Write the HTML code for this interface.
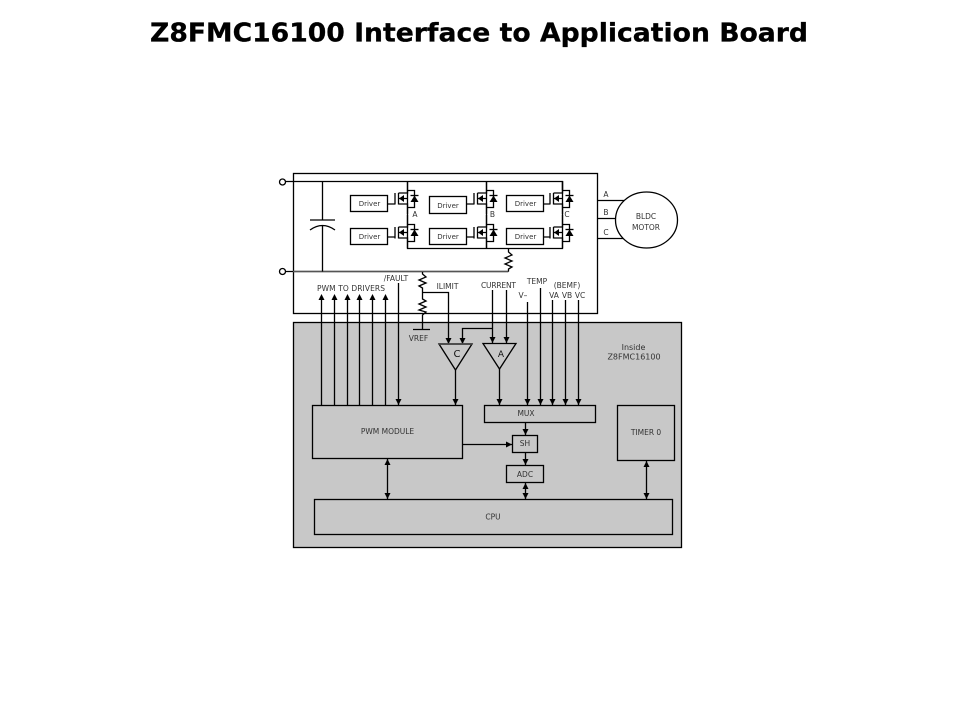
<!DOCTYPE html>
<html><head><meta charset="utf-8"><style>
html,body{margin:0;padding:0;background:#fff}
svg{display:block}
text{font-family:"DejaVu Sans","Liberation Sans",sans-serif;font-size:7.5px;fill:#333;text-anchor:middle}
.d{font-size:7px}
.l{stroke:#000;stroke-width:1.3;fill:none}
.b{stroke:#000;stroke-width:1.3;fill:#fff}
.g{stroke:#000;stroke-width:1.3;fill:#c8c8c8}
</style></head><body>
<svg width="960" height="720" viewBox="0 0 960 720" xmlns="http://www.w3.org/2000/svg">
<defs>
<g id="fet">
<path class="l" d="M-12.500,-5V6.500M-9,-5V6.500M-9,-5H0V-17M-9,6H0V16M0,-7.500H7V9.500H0M-9,0.500H0"/>
<path d="M-8.500,0.500L-3.500,-3V4Z" fill="#000"/>
<path d="M7,-2.500L3,4H11Z" fill="#000"/>
<path class="l" d="M3,-2.500H11"/>
</g>
<path id="up" d="M0,0L-3,6H3Z" fill="#000"/>
<path id="dn" d="M0,0L-3,-6H3Z" fill="#000"/>
</defs>
<text x="479" y="41.500" style="font-size:26px;font-weight:bold;fill:#000;stroke:#000;stroke-width:.3" textLength="658" lengthAdjust="spacingAndGlyphs">Z8FMC16100 Interface to Application Board</text>

<rect x="293.500" y="173.500" width="304" height="140" class="b"/>
<rect x="293.500" y="322.500" width="388" height="225" class="g"/>

<!-- rails -->
<path class="l" d="M285,181.500H562.500V190M285,271.500H508.500"/>
<path d="M293,271.500H508" stroke="#555" stroke-width="1.600" fill="none"/>
<circle cx="282.500" cy="182" r="3" class="b"/>
<circle cx="282.500" cy="271.500" r="3" class="b"/>
<path class="l" d="M407.500,181.500V248.500H562.500V181.500M486.500,181.500V248.500"/>
<!-- capacitor -->
<path class="l" d="M322.500,181.500V220M310,220H335M322.500,226V271.500M310,230Q322.500,221 335,230"/>
<!-- fets -->
<use href="#fet" x="407.500" y="198"/><use href="#fet" x="407.500" y="232"/>
<use href="#fet" x="486.500" y="198"/><use href="#fet" x="486.500" y="232"/>
<use href="#fet" x="562.500" y="198"/><use href="#fet" x="562.500" y="232"/>
<!-- drivers -->
<rect x="350.500" y="195.500" width="37" height="16" class="b"/>
<rect x="350.500" y="228.500" width="37" height="16" class="b"/>
<rect x="429.500" y="196.500" width="37" height="17" class="b"/>
<rect x="429.500" y="228.500" width="37" height="16" class="b"/>
<rect x="506.500" y="195.500" width="37" height="16" class="b"/>
<rect x="506.500" y="228.500" width="37" height="16" class="b"/>
<path class="l" d="M387.500,204H395M387.500,237H395M466.500,204H474M466.500,237H474M543.500,204H550M543.500,237H550"/>
<text class="d" x="369.500" y="206">Driver</text><text class="d" x="369.500" y="239">Driver</text>
<text class="d" x="448" y="208">Driver</text><text class="d" x="448" y="239">Driver</text>
<text class="d" x="525.500" y="206">Driver</text><text class="d" x="525.500" y="239">Driver</text>
<text x="415" y="217">A</text><text x="492.500" y="217">B</text><text x="567" y="217">C</text>
<!-- motor -->
<path class="l" d="M597,200.500H624M597,218.500H616M597,238.500H625"/>
<ellipse cx="646.500" cy="220" rx="31" ry="28" class="b"/>
<text x="606" y="197">A</text><text x="606" y="215">B</text><text x="606" y="235">C</text>
<text x="646" y="219">BLDC</text><text x="646" y="230">MOTOR</text>
<!-- shunt -->
<path class="l" d="M508.500,248.500V252L512,255L505,258L512,261L505,264L512,267L508.500,269V271.500"/>
<!-- ilimit -->
<path class="l" d="M422.500,272V274L426,277L419,280L426,283L419,286L422.500,288V299L426,301L419,304L426,307L419,310L426,312L422.500,315V329M413,329.500H430M422.500,292.500H448.500V343"/>
<!-- signal lines -->
<path class="l" d="M321.500,297V405M334.500,297V405M347.500,297V405M359.500,297V405M372.500,297V405M385.500,297V405M398.500,283V405M492.500,290V343M506.500,290V343M462.500,343V328.500H492.500M455.500,370V405M499.500,369V405M527.500,302V405M540.500,288V405M552.500,300V405M565.500,300V405M578.500,300V405"/>
<use href="#up" x="321.500" y="294"/><use href="#up" x="334.500" y="294"/><use href="#up" x="347.500" y="294"/><use href="#up" x="359.500" y="294"/><use href="#up" x="372.500" y="294"/><use href="#up" x="385.500" y="294"/>
<use href="#dn" x="448.500" y="344"/><use href="#dn" x="462.500" y="344"/><use href="#dn" x="492.500" y="343"/><use href="#dn" x="506.500" y="343"/>
<use href="#dn" x="398.500" y="405"/><use href="#dn" x="455.500" y="405"/><use href="#dn" x="499.500" y="405"/><use href="#dn" x="527.500" y="405"/><use href="#dn" x="540.500" y="405"/><use href="#dn" x="552.500" y="405"/><use href="#dn" x="565.500" y="405"/><use href="#dn" x="578.500" y="405"/>
<!-- amps -->
<path class="l" d="M439,344H472L455.500,370Z"/>
<path d="M439,344H472" stroke="#444" stroke-width="1.800" fill="none"/>
<path class="l" d="M483,343.500H516L499.500,369Z"/>
<text x="457" y="357" style="font-size:10px;fill:#111">C</text>
<text x="501" y="357" style="font-size:9px;fill:#111">A</text>
<!-- blocks -->
<rect x="312.500" y="405.500" width="150" height="53" class="g"/>
<rect x="484.500" y="405.500" width="111" height="17" class="g"/>
<rect x="617.500" y="405.500" width="57" height="55" class="g"/>
<rect x="512.500" y="435.500" width="25" height="17" class="g"/>
<rect x="506.500" y="465.500" width="37" height="17" class="g"/>
<rect x="314.500" y="499.500" width="358" height="35" class="g"/>
<path class="l" d="M525.500,422V435M525.500,452V465M525.500,482V499M463,444.500H512M387.500,458V499M646.500,460V499"/>
<use href="#dn" x="525.500" y="435"/><use href="#dn" x="525.500" y="465"/>
<use href="#up" x="525.500" y="483"/><use href="#dn" x="525.500" y="499"/>
<use href="#up" x="387.500" y="459"/><use href="#dn" x="387.500" y="499"/>
<use href="#up" x="646.500" y="461"/><use href="#dn" x="646.500" y="499"/>
<path d="M512,444.500L506,441.500V447.500Z" fill="#000"/>
<!-- labels -->
<text x="351" y="291" textLength="68">PWM TO DRIVERS</text>
<text x="396" y="281">/FAULT</text>
<text x="447.500" y="289">ILIMIT</text>
<text x="498.500" y="288" textLength="35">CURRENT</text>
<text x="537" y="284">TEMP</text>
<text x="567" y="288">(BEMF)</text>
<text x="523" y="298">V–</text>
<text x="554" y="298">VA</text><text x="567" y="298">VB</text><text x="580" y="298">VC</text>
<text x="418.500" y="341">VREF</text>
<text x="633.500" y="350" style="font-size:8px">Inside</text><text x="634" y="359.500" style="font-size:8px">Z8FMC16100</text>
<text x="387.500" y="434">PWM MODULE</text>
<text x="526" y="416">MUX</text>
<text x="646" y="435">TIMER 0</text>
<text x="525" y="446">SH</text>
<text x="525" y="477">ADC</text>
<text x="493" y="519.500">CPU</text>
</svg>
</body></html>
